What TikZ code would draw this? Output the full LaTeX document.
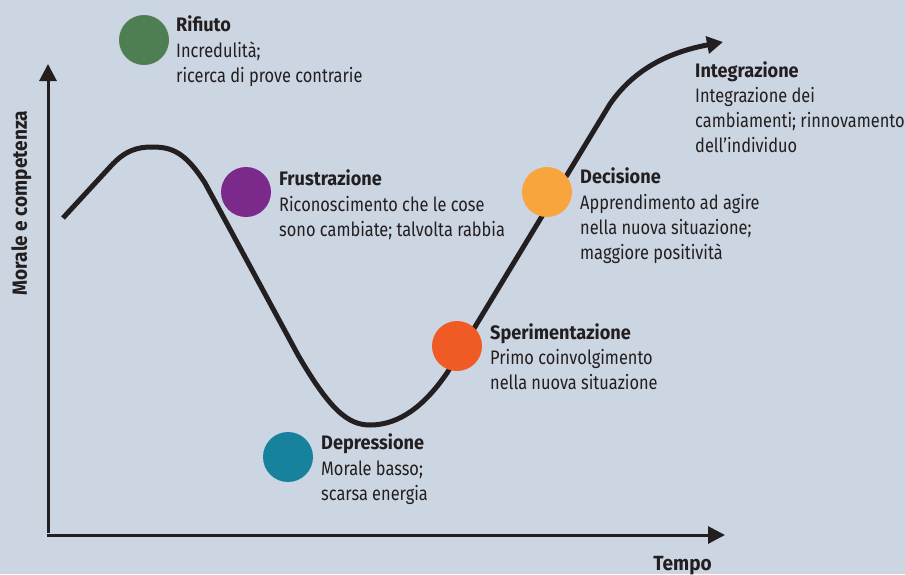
\documentclass[tikz,border=0pt]{standalone}
\usepackage{fontspec}
\setmainfont{Fira Sans}[FakeStretch=0.84, BoldFeatures={FakeStretch=0.93}]
\usetikzlibrary{arrows.meta}
\definecolor{bg}{HTML}{CCD5E2}
\definecolor{ink}{HTML}{231F20}
\definecolor{cRif}{HTML}{4E7F52}
\definecolor{cFru}{HTML}{7B2A8B}
\definecolor{cDep}{HTML}{17829C}
\definecolor{cSpe}{HTML}{F05A24}
\definecolor{cDec}{HTML}{F9A53E}
\newcommand{\toprule}{\rule{0pt}{16pt}}
\tikzset{
  dot/.style={circle, fill=#1, minimum size=50pt, inner sep=0pt},
  lab/.style={anchor=north west, align=left, inner sep=0pt, text=ink,
    font=\fontsize{19.5}{25}\selectfont},
  axlab/.style={inner sep=0pt, text=ink, font=\fontsize{20.5}{25}\selectfont\bfseries},
  axis/.style={line width=3pt, draw=ink, -{Triangle[length=17pt,width=17pt]}},
  curve/.style={line width=5pt, draw=ink, line join=round, -{Triangle[length=16pt,width=17pt]}},
}
\begin{document}
\begin{tikzpicture}[x=1pt,y=-1pt]
\fill[bg] (0,0) rectangle (905,574);
\useasboundingbox (0,0) rectangle (905,574);
% axes
\coordinate (origin) at (48,535);
\coordinate (ytip) at (48,64);
\coordinate (xtip) at (725,535);
\draw[axis] (48,533) -- (ytip);
\draw[axis] (46.5,535) -- (xtip);
\node[axlab, anchor=base east] (tempo) at (712,570) {Tempo};
\node[axlab, rotate=90, anchor=base] (morale) at (27,203) {Morale e competenza};
% curve
\draw[curve] (63,218) -- (110,167) .. controls (125,150) and (138,147) .. (152,147)
  .. controls (172,147) and (185,152) .. (205,183) -- (298,355)
  .. controls (330,410) and (348,425) .. (370,425)
  .. controls (400,425) and (425,405) .. (447,373) -- (610,104)
  .. controls (635,68) and (670,52) .. (723,42);
% dots
\node[dot=cRif] (rif) at (144,40) {};
\node[dot=cFru] (fru) at (246,192) {};
\node[dot=cDep] (dep) at (288,457) {};
\node[dot=cSpe] (spe) at (457,346) {};
\node[dot=cDec] (dec) at (547,192) {};
% labels (anchor = 16pt above first baseline)
\node[lab] (rifT) at (176,31-16) {\toprule\textbf{Rifiuto}\\[1pt]Incredulità;\\ricerca di prove contrarie};
\node[lab] (fruT) at (279,185-16) {\toprule\textbf{Frustrazione}\\[1pt]Riconoscimento che le cose\\sono cambiate; talvolta rabbia};
\node[lab] (depT) at (321,449-16) {\toprule\textbf{Depressione}\\[1pt]Morale basso;\\scarsa energia};
\node[lab] (speT) at (490,339-16) {\toprule\textbf{Sperimentazione}\\Primo coinvolgimento\\nella nuova situazione};
\node[lab] (decT) at (580,183-16) {\toprule\textbf{Decisione}\\[1pt]Apprendimento ad agire\\nella nuova situazione;\\maggiore positività};
\node[lab] (intT) at (695,77-16) {\toprule\textbf{Integrazione}\\Integrazione dei\\cambiamenti; rinnovamento\\dell’individuo};
\end{tikzpicture}
\end{document}
